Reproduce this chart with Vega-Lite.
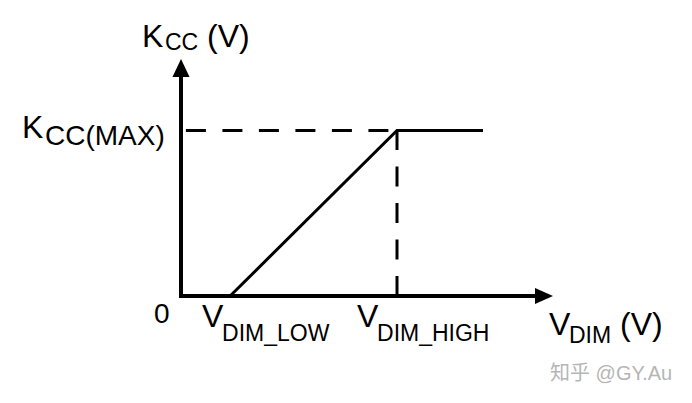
{
  "$schema": "https://vega.github.io/schema/vega-lite/v6.json",
  "width": 692,
  "height": 403,
  "padding": 0,
  "autosize": {"type": "fit", "contains": "padding"},
  "background": "white",
  "config": {
    "view": {"stroke": null},
    "text": {"align": "left", "baseline": "alphabetic", "color": "black",
             "font": "Liberation Sans, Arial, Noto Sans CJK SC, sans-serif"}
  },
  "datasets": {
    "axes": [
      {"x": 0, "y": 1.34, "i": 0},
      {"x": 0, "y": 0, "i": 1},
      {"x": 3.62, "y": 0, "i": 2}
    ],
    "curve": [
      {"x": 0.5, "y": 0, "i": 0},
      {"x": 2.2, "y": 1, "i": 1},
      {"x": 3.076, "y": 1, "i": 2}
    ],
    "guides": [
      {"g": "h", "x": 0.05, "y": 1, "i": 0},
      {"g": "h", "x": 2.2, "y": 1, "i": 1},
      {"g": "v", "x": 2.2, "y": 0, "i": 0},
      {"g": "v", "x": 2.2, "y": 1, "i": 1}
    ],
    "arrows": [
      {"dir": "up", "x": 0, "y": 1.3776},
      {"dir": "right", "x": 3.697, "y": 0}
    ],
    "labels": [
      {"text": "K", "role": "main", "x": -0.397, "y": 1.5045},
      {"text": "CC", "role": "sub", "x": -0.163, "y": 1.4864},
      {"text": "(V)", "role": "main", "x": 0.265, "y": 1.5045},
      {"text": "K", "role": "main", "x": -1.619, "y": 0.9547},
      {"text": "CC(MAX)", "role": "subL", "x": -1.385, "y": 0.9124},
      {"text": "0", "role": "zero", "x": -0.275, "y": -0.163},
      {"text": "V", "role": "main", "x": 0.214, "y": -0.1873},
      {"text": "DIM_LOW", "role": "sub", "x": 0.418, "y": -0.2719},
      {"text": "V", "role": "main", "x": 1.793, "y": -0.1873},
      {"text": "DIM_HIGH", "role": "sub", "x": 1.9965, "y": -0.2719},
      {"text": "V", "role": "main", "x": 3.748, "y": -0.2356},
      {"text": "DIM", "role": "sub", "x": 3.952, "y": -0.284},
      {"text": "(V)", "role": "main", "x": 4.4715, "y": -0.2356},
      {"text": "知乎 @GY.Au", "role": "wm", "x": 3.7586, "y": -0.5076}
    ]
  },
  "encoding": {
    "x": {"field": "x", "type": "quantitative", "axis": null,
          "scale": {"domain": [-1.8436, 5.2047], "nice": false, "zero": false}},
    "y": {"field": "y", "type": "quantitative", "axis": null,
          "scale": {"domain": [-0.6465, 1.7885], "nice": false, "zero": false}}
  },
  "layer": [
    {
      "data": {"name": "guides"},
      "mark": {"type": "line", "color": "black", "strokeWidth": 3, "strokeDash": [20, 16.5]},
      "encoding": {
        "detail": {"field": "g", "type": "nominal"},
        "order": {"field": "i", "type": "quantitative"}
      }
    },
    {
      "data": {"name": "curve"},
      "mark": {"type": "line", "color": "black", "strokeWidth": 3, "strokeJoin": "miter"},
      "encoding": {"order": {"field": "i", "type": "quantitative"}}
    },
    {
      "data": {"name": "axes"},
      "mark": {"type": "line", "color": "black", "strokeWidth": 4, "strokeJoin": "miter"},
      "encoding": {"order": {"field": "i", "type": "quantitative"}}
    },
    {
      "data": {"name": "arrows"},
      "mark": {"type": "point", "filled": true, "color": "black", "opacity": 1, "size": 324, "strokeWidth": 0},
      "encoding": {
        "shape": {
          "field": "dir", "type": "nominal", "legend": null,
          "scale": {"domain": ["up", "right"], "range": ["M0,-1L-0.95,1L0.95,1Z", "M1,0L-1,-0.9L-1,0.9Z"]}
        }
      }
    },
    {
      "data": {"name": "labels"},
      "transform": [{"filter": "datum.role == 'main'"}],
      "mark": {"type": "text", "fontSize": 32},
      "encoding": {"text": {"field": "text"}}
    },
    {
      "data": {"name": "labels"},
      "transform": [{"filter": "datum.role == 'sub'"}],
      "mark": {"type": "text", "fontSize": 23},
      "encoding": {"text": {"field": "text"}}
    },
    {
      "data": {"name": "labels"},
      "transform": [{"filter": "datum.role == 'subL'"}],
      "mark": {"type": "text", "fontSize": 28},
      "encoding": {"text": {"field": "text"}}
    },
    {
      "data": {"name": "labels"},
      "transform": [{"filter": "datum.role == 'zero'"}],
      "mark": {"type": "text", "fontSize": 28},
      "encoding": {"text": {"field": "text"}}
    },
    {
      "data": {"name": "labels"},
      "transform": [{"filter": "datum.role == 'wm'"}],
      "mark": {"type": "text", "fontSize": 20, "color": "#b5b5b5"},
      "encoding": {"text": {"field": "text"}}
    }
  ]
}
